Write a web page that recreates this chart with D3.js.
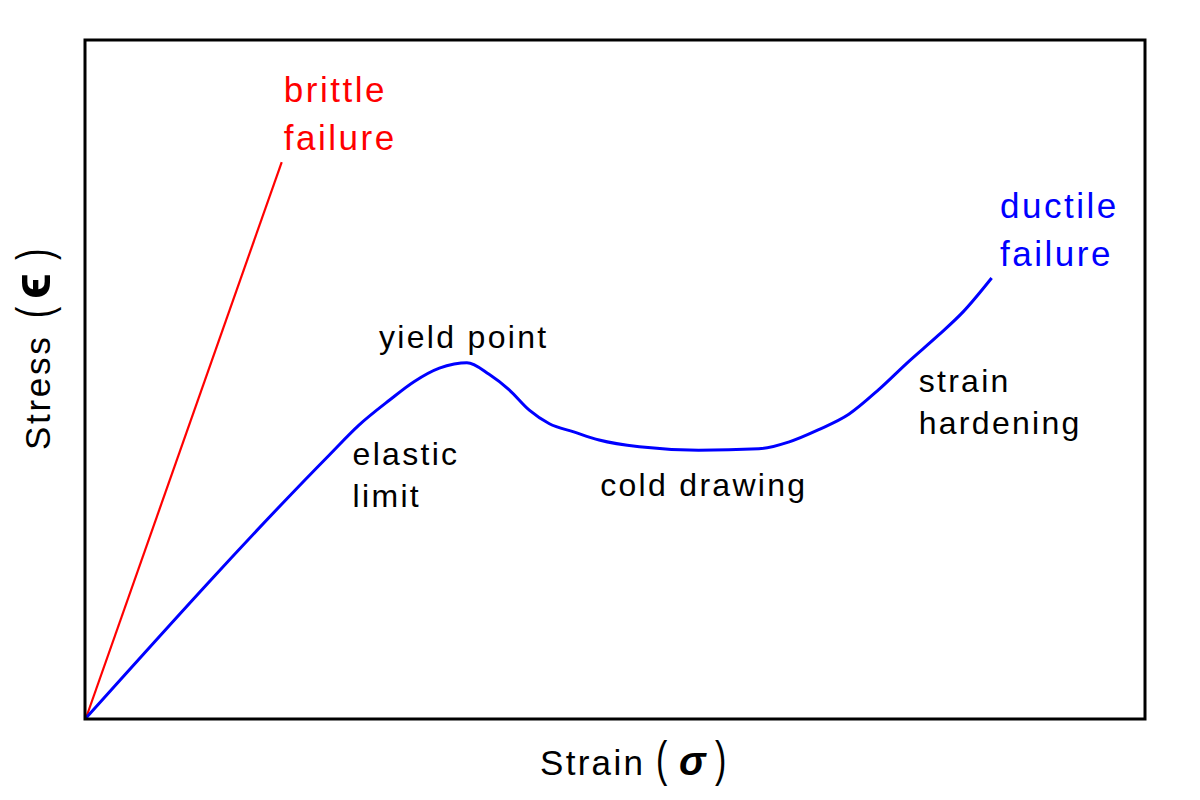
<!DOCTYPE html>
<html>
<head>
<meta charset="utf-8">
<script src="https://cdn.jsdelivr.net/npm/d3@7"></script>
<style>
  body { margin: 0; background: #fff; }
  text { font-family: "Liberation Sans", Arial, sans-serif; }
</style>
</head>
<body>
<div id="viz"></div>
<script>
// strain / stress in arbitrary units (0..100)
var brittleStrain = [0, 18.5];
var brittleStress = [0, 82.0];

var ductileStrain = [0, 23.0, 25.8, 28.7, 31.0, 33.4, 34.8, 36.0, 38.1, 40.0, 41.9, 43.8, 46.1, 48.5, 52.3, 57.9, 63.6, 66.4, 69.2, 72.1, 74.9, 77.7, 80.6, 82.9, 85.6];
var ductileStress = [0, 38.8, 43.2, 46.9, 49.6, 51.6, 52.2, 52.4, 50.7, 48.4, 45.4, 43.4, 42.2, 41.0, 40.0, 39.5, 39.7, 40.7, 42.5, 44.8, 48.4, 52.5, 56.5, 59.9, 64.9];

var labels = [
  {lines: ["brittle", "failure"], x: 18.7, y: 90.9, color: "red", big: true},
  {lines: ["ductile", "failure"], x: 86.4, y: 73.7, color: "blue", big: true},
  {lines: ["yield point"], x: 27.7, y: 54.6, color: "black"},
  {lines: ["elastic", "limit"], x: 25.2, y: 37.3, color: "black"},
  {lines: ["cold drawing"], x: 48.6, y: 32.7, color: "black"},
  {lines: ["strain", "hardening"], x: 78.7, y: 48.1, color: "black"}
];

var width = 1200, height = 800;
var mLeft = 85, mTop = 40, mRight = 1145, mBottom = 719;

var x = d3.scaleLinear().domain([0, 100]).range([mLeft + 1, mRight - 1]);
var y = d3.scaleLinear().domain([0, 100]).range([mBottom - 1, mTop]);

var svg = d3.select("#viz").append("svg")
  .attr("width", width)
  .attr("height", height);

svg.append("rect")
  .attr("width", width).attr("height", height)
  .attr("fill", "white");

var line = d3.line()
  .x(function(d) { return x(d[0]); })
  .y(function(d) { return y(d[1]); });

svg.append("path")
  .datum(d3.zip(brittleStrain, brittleStress))
  .attr("d", line)
  .attr("fill", "none")
  .attr("stroke", "red")
  .attr("stroke-width", 2.2);

svg.append("path")
  .datum(d3.zip(ductileStrain, ductileStress))
  .attr("d", line.curve(d3.curveMonotoneX))
  .attr("fill", "none")
  .attr("stroke", "blue")
  .attr("stroke-width", 3)
  .attr("stroke-linejoin", "round");

// frame
svg.append("rect")
  .attr("x", mLeft).attr("y", mTop)
  .attr("width", mRight - mLeft).attr("height", mBottom - mTop)
  .attr("fill", "none")
  .attr("stroke", "black")
  .attr("stroke-width", 3);

// annotations
labels.forEach(function(l) {
  var t = svg.append("text")
    .attr("x", x(l.x))
    .attr("y", y(l.y))
    .attr("fill", l.color)
    .style("font-size", l.big ? "35px" : "32px")
    .style("letter-spacing", l.big ? "2.5px" : "2.3px");
  l.lines.forEach(function(s, i) {
    t.append("tspan")
      .attr("x", x(l.x))
      .attr("dy", i == 0 ? 0 : (l.big ? 48 : 42))
      .text(s);
  });
});

// thin, tall parentheses
function paren(g, ch, px) {
  g.append("text")
    .attr("transform", "translate(" + px + ",1) scale(1,1.45)")
    .style("font-size", "34px")
    .text(ch);
}

// axis titles
var xg = svg.append("g").attr("transform", "translate(540,775)");
xg.append("text")
  .style("font-size", "35px")
  .style("letter-spacing", "2.3px")
  .text("Strain");
paren(xg, "(", 116);
xg.append("text").attr("x", 139)
  .style("font-size", "40px").style("font-weight", "bold").style("font-style", "italic")
  .text("σ");
paren(xg, ")", 175);

var yg = svg.append("g").attr("transform", "translate(50,450) rotate(-90)");
yg.append("text")
  .style("font-size", "35px")
  .style("letter-spacing", "2.7px")
  .text("Stress");
paren(yg, "(", 132);
yg.append("text").attr("x", 151)
  .style("font-size", "54px").style("font-weight", "bold")
  .text("ϵ");
paren(yg, ")", 190);
</script>
</body>
</html>
